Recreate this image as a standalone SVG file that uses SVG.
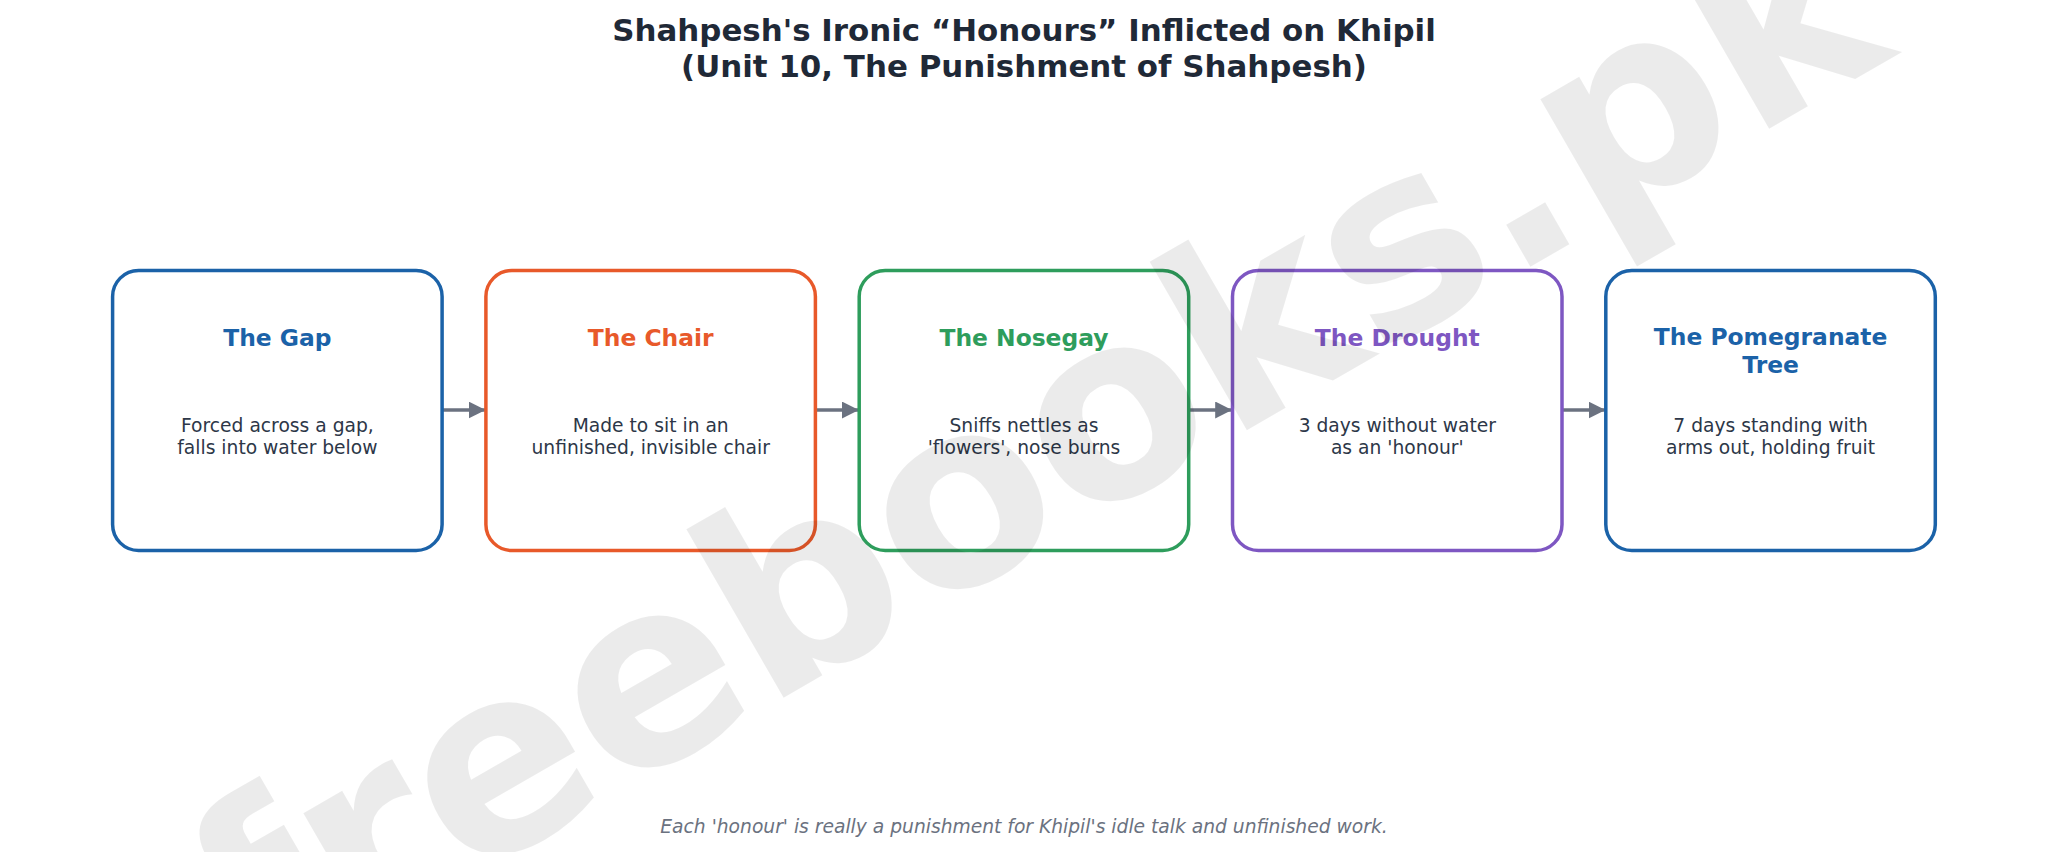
<svg xmlns="http://www.w3.org/2000/svg" width="2048" height="852" viewBox="0 0 2048 852">
<defs>
<style>
.box{fill:#ffffff;stroke-width:3.5}
.ttl{font-family:"DejaVu Sans",sans-serif;font-weight:bold;font-size:30.9px;fill:#1f2937;text-anchor:middle}
.nt{font-family:"DejaVu Sans",sans-serif;font-weight:bold;font-size:23.4px;text-anchor:middle}
.ds{font-family:"DejaVu Sans",sans-serif;font-size:18.7px;fill:#2d3748;text-anchor:middle}
.ft{font-family:"DejaVu Sans",sans-serif;font-style:italic;font-size:18.7px;fill:#6b7280;text-anchor:middle}
.wm{font-family:"DejaVu Sans",sans-serif;font-weight:bold;font-size:256px;fill:#000000;fill-opacity:0.08}
.conn{stroke:#6b7280;stroke-width:3.5;fill:none}
</style>
<marker id="ah" viewBox="0 0 17 17" refX="17" refY="8.5" markerWidth="17" markerHeight="17" markerUnits="userSpaceOnUse" orient="auto">
<path d="M0,0 L17,8.5 L0,17 Z" fill="#6b7280"/>
</marker>
</defs>
<rect x="0" y="0" width="2048" height="852" fill="#ffffff"/>
<g id="title">
<text class="ttl" x="1024" y="41">Shahpesh's Ironic “Honours” Inflicted on Khipil</text>
<text class="ttl" x="1024" y="77">(Unit 10, The Punishment of Shahpesh)</text>
</g>
<g id="connectors">
<line class="conn" x1="442.4" y1="410" x2="485.6" y2="410" marker-end="url(#ah)"/>
<line class="conn" x1="815.7" y1="410" x2="858.9" y2="410" marker-end="url(#ah)"/>
<line class="conn" x1="1189" y1="410" x2="1232.2" y2="410" marker-end="url(#ah)"/>
<line class="conn" x1="1562.3" y1="410" x2="1605.5" y2="410" marker-end="url(#ah)"/>
</g>
<g id="node-gap">
<rect class="box" x="112.6" y="270.5" width="329.5" height="280" rx="26" stroke="#1b62a8"/>
<text class="nt" x="277.4" y="346" fill="#1b62a8">The Gap</text>
<text class="ds" x="277.4" y="432">Forced across a gap,</text>
<text class="ds" x="277.4" y="454.3">falls into water below</text>
</g>
<g id="node-chair">
<rect class="box" x="485.9" y="270.5" width="329.5" height="280" rx="26" stroke="#e8592a"/>
<text class="nt" x="650.7" y="346" fill="#e8592a">The Chair</text>
<text class="ds" x="650.7" y="432">Made to sit in an</text>
<text class="ds" x="650.7" y="454.3">unfinished, invisible chair</text>
</g>
<g id="node-nosegay">
<rect class="box" x="859.2" y="270.5" width="329.5" height="280" rx="26" stroke="#2e9d5c"/>
<text class="nt" x="1024" y="346" fill="#2e9d5c">The Nosegay</text>
<text class="ds" x="1024" y="432">Sniffs nettles as</text>
<text class="ds" x="1024" y="454.3">'flowers', nose burns</text>
</g>
<g id="node-drought">
<rect class="box" x="1232.5" y="270.5" width="329.5" height="280" rx="26" stroke="#7e57c2"/>
<text class="nt" x="1397.3" y="346" fill="#7e57c2">The Drought</text>
<text class="ds" x="1397.3" y="432">3 days without water</text>
<text class="ds" x="1397.3" y="454.3">as an 'honour'</text>
</g>
<g id="node-pomegranate">
<rect class="box" x="1605.8" y="270.5" width="329.5" height="280" rx="26" stroke="#1b62a8"/>
<text class="nt" x="1770.6" y="345" fill="#1b62a8">The Pomegranate</text>
<text class="nt" x="1770.6" y="373.3" fill="#1b62a8">Tree</text>
<text class="ds" x="1770.6" y="432">7 days standing with</text>
<text class="ds" x="1770.6" y="454.3">arms out, holding fruit</text>
</g>
<text class="ft" x="1024" y="832.5">Each 'honour' is really a punishment for Khipil's idle talk and unfinished work.</text>
<text class="wm" x="0" y="0" transform="translate(258.4 1001) rotate(-30)">freebooks.pk</text>
</svg>
